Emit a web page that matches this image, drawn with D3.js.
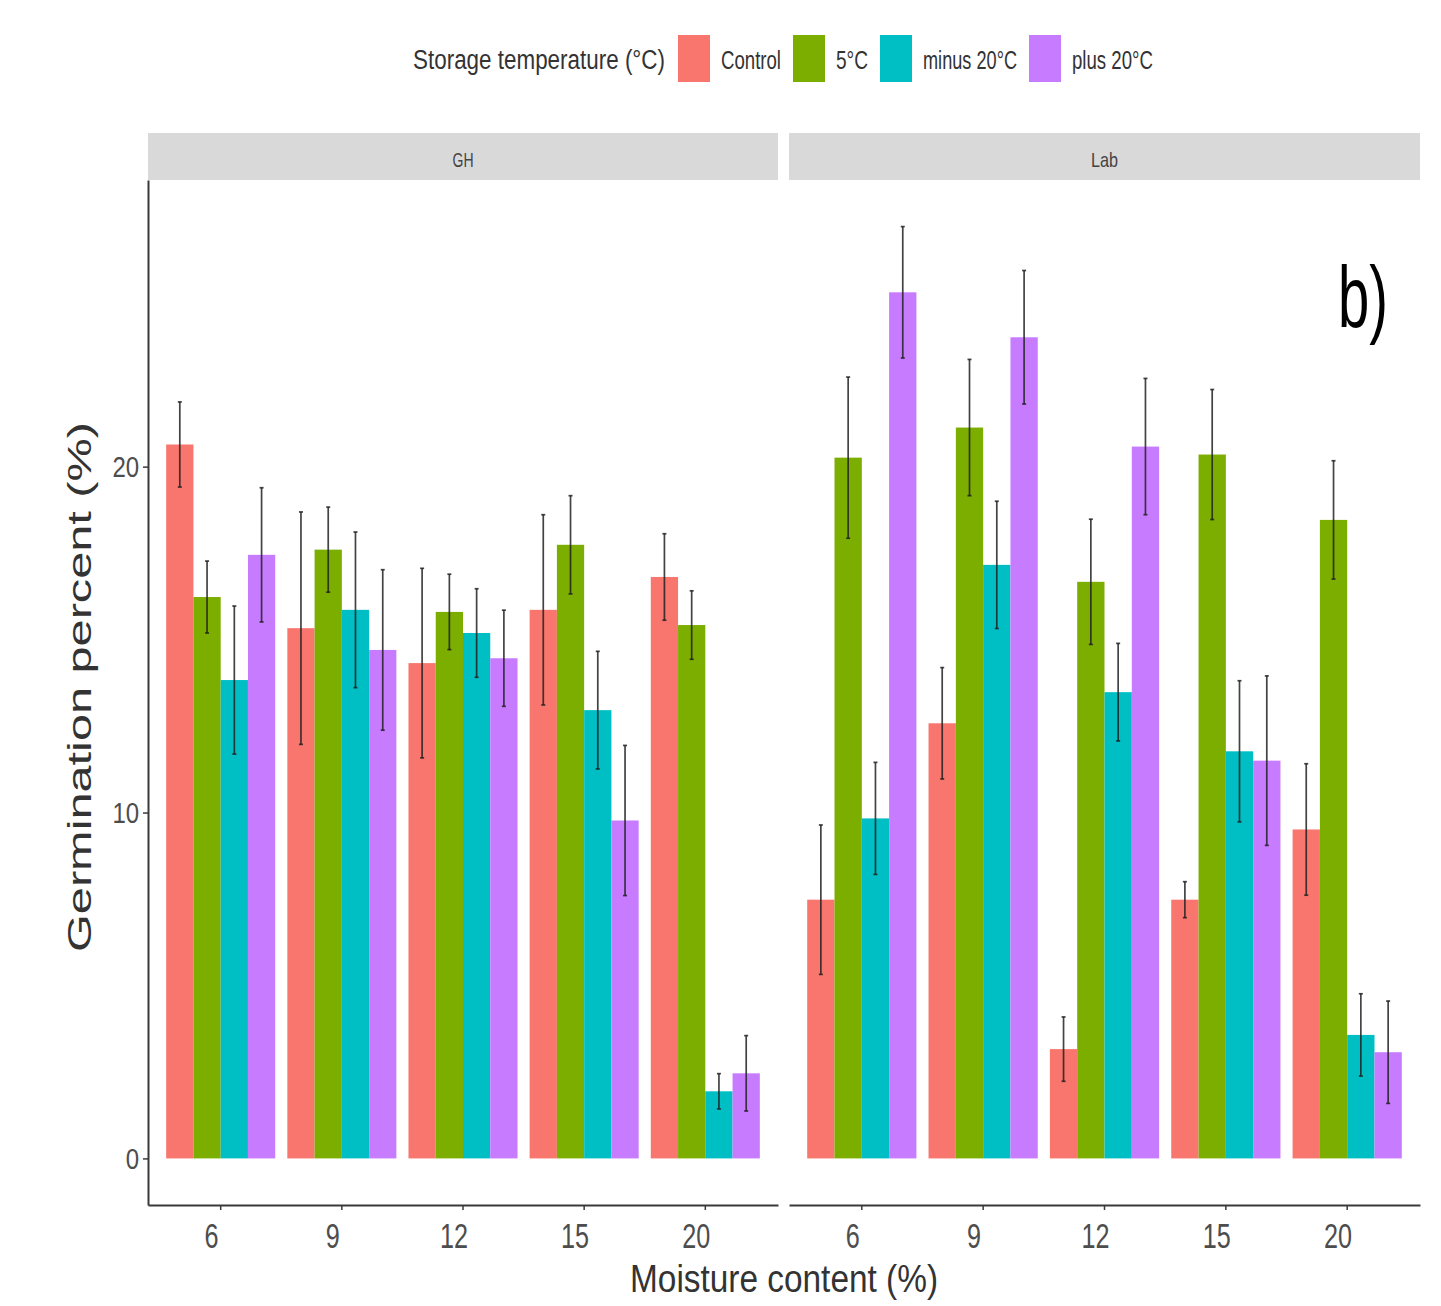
<!DOCTYPE html>
<html>
<head>
<meta charset="utf-8">
<script src="https://cdn.jsdelivr.net/npm/d3@7"></script>
<style>
  body { margin: 0; background: #fff; }
  text { font-family: "Liberation Sans", Arial, sans-serif; }
</style>
</head>
<body>
<script>
// moisture content levels and storage treatments
const categories = ["6", "9", "12", "15", "20"];
const groups = ["Control", "5°C", "minus 20°C", "plus 20°C"];
const facets = ["GH", "Lab"];
const yTicks = [0, 10, 20];

// GH means and standard errors, one value per moisture level
const ghControl = [20.64, 15.33, 14.32, 15.86, 16.81];
const ghFive = [16.23, 17.6, 15.8, 17.74, 15.42];
const ghMinus20 = [13.83, 15.86, 15.19, 12.96, 1.94];
const ghPlus20 = [17.45, 14.7, 14.46, 9.77, 2.46];
const ghControlSe = [1.23, 3.36, 2.74, 2.75, 1.25];
const ghFiveSe = [1.04, 1.23, 1.09, 1.42, 0.99];
const ghMinus20Se = [2.14, 2.25, 1.28, 1.7, 0.51];
const ghPlus20Se = [1.94, 2.32, 1.39, 2.17, 1.09];

// Lab means and standard errors
const labControl = [7.48, 12.58, 3.16, 7.48, 9.51];
const labFive = [20.26, 21.13, 16.67, 20.35, 18.46];
const labMinus20 = [9.83, 17.16, 13.48, 11.77, 3.57];
const labPlus20 = [25.04, 23.74, 20.58, 11.5, 3.07];
const labControlSe = [2.16, 1.61, 0.93, 0.52, 1.9];
const labFiveSe = [2.33, 1.97, 1.81, 1.88, 1.71];
const labMinus20Se = [1.62, 1.84, 1.41, 2.04, 1.19];
const labPlus20Se = [1.9, 1.93, 1.97, 2.45, 1.48];

const colors = ["#F8766D", "#7CAE00", "#00BFC4", "#C77CFF"];

const facetMeans = {
    GH: [ghControl, ghFive, ghMinus20, ghPlus20],
    Lab: [labControl, labFive, labMinus20, labPlus20]
};
const facetSe = {
    GH: [ghControlSe, ghFiveSe, ghMinus20Se, ghPlus20Se],
    Lab: [labControlSe, labFiveSe, labMinus20Se, labPlus20Se]
};

let rows = [];
facets.forEach(f => {
    groups.forEach((g, gi) => {
        categories.forEach((c, ci) => {
            rows.push({ facet: f, group: g, cat: c,
                mean: facetMeans[f][gi][ci], se: facetSe[f][gi][ci] });
        });
    });
});

let width = 1441, height = 1306;
let svg = d3.select("body").append("svg")
    .attr("width", width)
    .attr("height", height);

let panelTop = 180, panelBottom = 1205;
let panels = [
    { name: "GH", x0: 148, x1: 778 },
    { name: "Lab", x0: 789, x1: 1420 }
];

// ggplot-like 5% expansion of the data range
let hi = d3.max(rows, d => d.mean + d.se);
let lo = Math.min(0, d3.min(rows, d => d.mean - d.se));
let pad = (hi - lo) * 0.05;
let y = d3.scaleLinear()
    .domain([lo - pad, hi + pad])
    .range([panelBottom, panelTop]);

let color = d3.scaleOrdinal().domain(groups).range(colors);

panels.forEach((p, pi) => {
    let x = d3.scaleBand()
        .domain(categories)
        .range([p.x0, p.x1])
        .paddingInner(0.1)
        .paddingOuter(0.15);
    let xs = d3.scaleBand()
        .domain(groups)
        .range([0, x.bandwidth()]);

    // strip
    svg.append("rect")
        .attr("x", p.x0)
        .attr("y", 133)
        .attr("width", p.x1 - p.x0)
        .attr("height", 47)
        .attr("fill", "#D9D9D9");
    svg.append("text")
        .attr("x", (p.x0 + p.x1) / 2)
        .attr("y", 167)
        .attr("text-anchor", "middle")
        .attr("font-size", "21px")
        .attr("fill", "#444")
        .attr("textLength", p.name == "GH" ? 21 : 27)
        .attr("lengthAdjust", "spacingAndGlyphs")
        .text(p.name);

    let data = rows.filter(d => d.facet == p.name);

    svg.append("g")
        .selectAll("rect")
        .data(data)
        .enter()
        .append("rect")
        .attr("x", d => x(d.cat) + xs(d.group))
        .attr("y", d => y(d.mean))
        .attr("width", xs.bandwidth())
        .attr("height", d => y(0) - y(d.mean))
        .attr("fill", d => color(d.group));

    let eb = svg.append("g")
        .attr("stroke", "#222")
        .attr("stroke-opacity", 0.85)
        .attr("stroke-width", 1.7)
        .selectAll("g")
        .data(data)
        .enter()
        .append("g");
    let cx = d => x(d.cat) + xs(d.group) + xs.bandwidth() / 2;
    eb.append("line")
        .attr("x1", cx).attr("x2", cx)
        .attr("y1", d => y(d.mean - d.se))
        .attr("y2", d => y(d.mean + d.se));
    eb.append("line")
        .attr("x1", d => cx(d) - 2).attr("x2", d => cx(d) + 2)
        .attr("y1", d => y(d.mean + d.se))
        .attr("y2", d => y(d.mean + d.se));
    eb.append("line")
        .attr("x1", d => cx(d) - 2).attr("x2", d => cx(d) + 2)
        .attr("y1", d => y(d.mean - d.se))
        .attr("y2", d => y(d.mean - d.se));

    // x axis
    let xa = svg.append("g")
        .attr("transform", `translate(0,${panelBottom})`)
        .call(d3.axisBottom(x).tickSize(5).tickSizeOuter(0).tickPadding(12));
    xa.select(".domain").attr("stroke", "#3a3a3a").attr("stroke-width", 2);
    xa.selectAll(".tick line").attr("stroke", "#3a3a3a").attr("stroke-width", 1.5);
    // labels in the source sit a little left of their ticks
    xa.selectAll(".tick text")
        .attr("font-size", "36px")
        .attr("font-family", "Liberation Sans")
        .attr("fill", "#4D4D4D")
        .attr("x", -13)
        .attr("transform", "scale(0.7,1)");

    // y axis only on the first panel
    if (pi == 0) {
        let ya = svg.append("g")
            .attr("transform", `translate(${p.x0},0)`)
            .call(d3.axisLeft(y).tickValues(yTicks).tickSize(5).tickSizeOuter(0).tickPadding(6));
        ya.select(".domain").attr("stroke", "#3a3a3a").attr("stroke-width", 2);
        ya.selectAll(".tick line").attr("stroke", "#3a3a3a").attr("stroke-width", 1.5);
        ya.selectAll(".tick text")
            .attr("font-size", "30px")
            .attr("font-family", "Liberation Sans")
            .attr("fill", "#4D4D4D")
            .attr("transform", "scale(0.8,1)");
    }
});

// axis titles
svg.append("text")
    .attr("transform", "translate(91,687) rotate(-90)")
    .attr("text-anchor", "middle")
    .attr("font-size", "34px")
    .attr("fill", "#333")
    .attr("textLength", 530)
    .attr("lengthAdjust", "spacingAndGlyphs")
    .text("Germination percent (%)");

svg.append("text")
    .attr("x", 784)
    .attr("y", 1292)
    .attr("text-anchor", "middle")
    .attr("font-size", "38px")
    .attr("fill", "#333")
    .attr("textLength", 308)
    .attr("lengthAdjust", "spacingAndGlyphs")
    .text("Moisture content (%)");

// panel tag
svg.append("text")
    .attr("x", 1338)
    .attr("y", 327)
    .attr("font-family", "Lato")
    .attr("font-size", "88px")
    .attr("fill", "#000")
    .attr("textLength", 50)
    .attr("lengthAdjust", "spacingAndGlyphs")
    .text("b)");

// legend
let legendLabelLen = [60, 32, 94, 81];
let lx = 413;
svg.append("text")
    .attr("x", lx)
    .attr("y", 69)
    .attr("font-size", "27px")
    .attr("fill", "#333")
    .attr("textLength", 252)
    .attr("lengthAdjust", "spacingAndGlyphs")
    .text("Storage temperature (°C)");
lx += 252 + 13;
groups.forEach((g, i) => {
    svg.append("rect")
        .attr("x", lx)
        .attr("y", 35)
        .attr("width", 32)
        .attr("height", 47)
        .attr("fill", color(g));
    lx += 32 + 11;
    svg.append("text")
        .attr("x", lx)
        .attr("y", 69)
        .attr("font-size", "25px")
        .attr("fill", "#333")
        .attr("textLength", legendLabelLen[i])
        .attr("lengthAdjust", "spacingAndGlyphs")
        .text(g);
    lx += legendLabelLen[i] + 12;
});
</script>
</body>
</html>
